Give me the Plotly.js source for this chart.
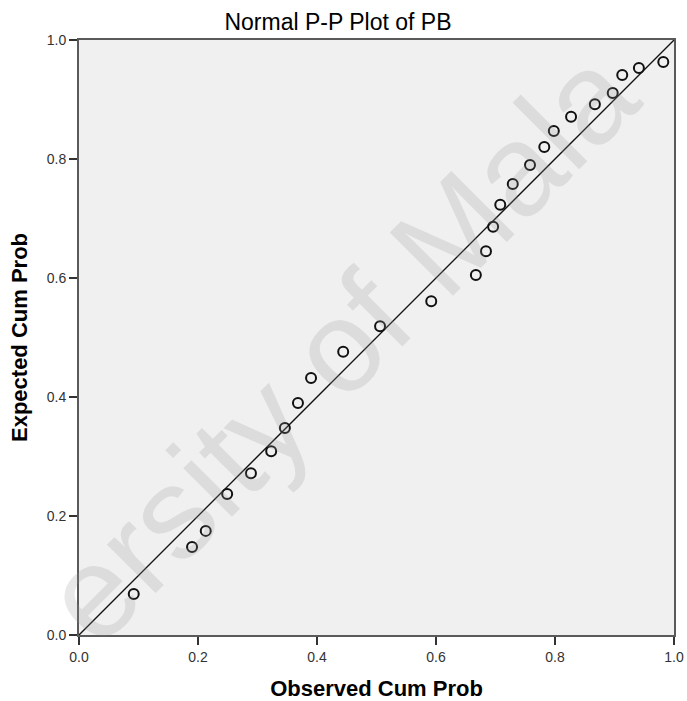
<!DOCTYPE html>
<html>
<head>
<meta charset="utf-8">
<script src="https://cdn.plot.ly/plotly-3.0.1.min.js"></script>
<style>html,body{margin:0;padding:0;background:#fff;}#chart{width:687px;height:701px;}</style>
</head>
<body>
<div id="chart"></div>
<script>
// Observed vs expected cumulative probabilities
const observedCumProb = [0.092, 0.190, 0.213, 0.249, 0.289, 0.323, 0.346, 0.368, 0.390, 0.444, 0.506,
                         0.592, 0.667, 0.684, 0.696, 0.708, 0.729, 0.758, 0.782, 0.798, 0.827, 0.867,
                         0.897, 0.913, 0.941, 0.982];
const expectedCumProb = [0.069, 0.148, 0.175, 0.237, 0.272, 0.309, 0.348, 0.390, 0.432, 0.476, 0.519,
                         0.561, 0.605, 0.645, 0.686, 0.723, 0.758, 0.790, 0.820, 0.847, 0.871, 0.892,
                         0.911, 0.941, 0.953, 0.963];
const refLineX = [0, 1];
const refLineY = [0, 1];
const tickVals = [0, 0.2, 0.4, 0.6, 0.8, 1.0];
const tickText = ["0.0", "0.2", "0.4", "0.6", "0.8", "1.0"];
const watermarkText = 'ersity of Mala';

const traces = [
  {
    x: refLineX, y: refLineY, type: 'scatter', mode: 'lines',
    line: {color: '#111', width: 1.3}, hoverinfo: 'skip', showlegend: false
  },
  {
    x: observedCumProb, y: expectedCumProb, type: 'scatter', mode: 'markers',
    marker: {symbol: 'circle-open', size: 10, color: '#111', line: {width: 2, color: '#111'}},
    showlegend: false
  }
];

const axisCommon = {
  range: [0, 1], tickvals: tickVals, ticktext: tickText,
  showgrid: false, zeroline: false,
  showline: true, linecolor: '#5a5a5a', linewidth: 2, mirror: true,
  ticks: 'outside', ticklen: 8, tickwidth: 1.5, tickcolor: '#333',
  tickfont: {family: 'Liberation Sans, Arial, sans-serif', size: 14, color: '#333'},
  fixedrange: true, automargin: false
};

const layout = {
  width: 687, height: 701,
  margin: {l: 79, r: 13, t: 40, b: 66, pad: 0},
  paper_bgcolor: '#ffffff', plot_bgcolor: '#f0f0f0',
  title: {
    text: 'Normal P-P Plot of PB',
    font: {family: 'Liberation Sans, Arial, sans-serif', size: 23, color: '#000'},
    x: 0.492, xref: 'container', xanchor: 'center',
    y: 0.968, yref: 'container', yanchor: 'middle'
  },
  xaxis: Object.assign({}, axisCommon, {
    title: {text: '<b>Observed Cum Prob</b>', standoff: 19,
            font: {family: 'Liberation Sans, Arial, sans-serif', size: 22, color: '#000'}}
  }),
  yaxis: Object.assign({}, axisCommon, {
    title: {text: '<b>Expected Cum Prob</b>', standoff: 13,
            font: {family: 'Liberation Sans, Arial, sans-serif', size: 22, color: '#000'}}
  }),
  annotations: [{
    text: watermarkText, xref: 'paper', yref: 'paper',
    x: 0.439, y: 0.487, showarrow: false, textangle: -45,
    font: {family: 'Liberation Sans, Arial, sans-serif', size: 130, color: 'rgba(150,150,150,0.22)'}
  }],
  showlegend: false
};

Plotly.newPlot('chart', traces, layout, {displayModeBar: false, staticPlot: true});
</script>
</body>
</html>
